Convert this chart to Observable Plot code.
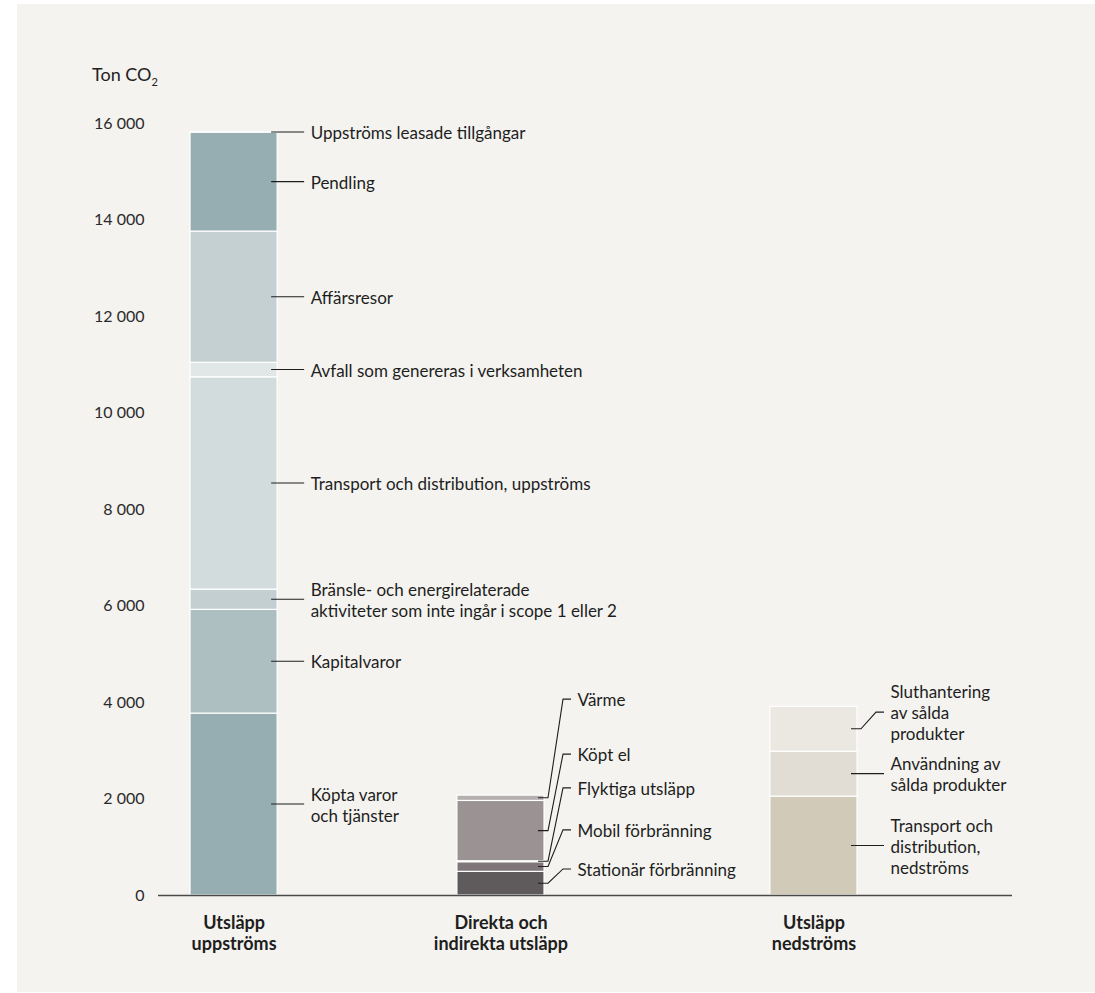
<!DOCTYPE html>
<html>
<head>
<meta charset="utf-8">
<script src="https://cdn.jsdelivr.net/npm/d3@7"></script>
<script src="https://cdn.jsdelivr.net/npm/@observablehq/plot@0.6"></script>
<style>
  html, body { margin: 0; padding: 0; background: #ffffff; }
  #panel { position: absolute; left: 17px; top: 4px; width: 1078px; height: 988px; background: #f4f3ef;
           font-family: Lato, "Noto Sans", sans-serif; }
  #title { height: 91px; box-sizing: border-box; padding: 59px 0 0 75px; font-size: 18px; line-height: 22px; color: #222; }
  #title sub { font-size: 11px; vertical-align: -5px; line-height: 0; }
  #chart svg { display: block; }
</style>
</head>
<body>
<div id="panel">
  <div id="title">Ton CO<sub>2</sub></div>
  <div id="chart"></div>
</div>
<script>
// ---------------- DATA ----------------
const groupNames = ["Utsläpp\nuppströms", "Direkta och\nindirekta utsläpp", "Utsläpp\nnedströms"];

const upstreamLabels = [
  "Köpta varor\noch tjänster",
  "Kapitalvaror",
  "Bränsle- och energirelaterade\naktiviteter som inte ingår i scope 1 eller 2",
  "Transport och distribution, uppströms",
  "Avfall som genereras i verksamheten",
  "Affärsresor",
  "Pendling",
  "Uppströms leasade tillgångar"
];
const upstreamValues = [3770, 2150, 420, 4400, 300, 2720, 2050, 10];

const directLabels = ["Stationär förbränning", "Mobil förbränning", "Flyktiga utsläpp", "Köpt el", "Värme"];
const directValues = [490, 200, 20, 1250, 110];

const downstreamLabels = ["Transport och\ndistribution,\nnedströms", "Användning av\nsålda produkter", "Sluthantering\nav sålda\nprodukter"];
const downstreamValues = [2050, 930, 930];

const yTicks = [0, 2000, 4000, 6000, 8000, 10000, 12000, 14000, 16000];

// ---------------- LAYOUT / STYLE ----------------
const groupCenter = [8.85, 40.1, 76.75];   // x-scale units (0..100)
const barHalf = 5.1;
// label anchor (in tons) where a label is moved away from its segment midpoint
const directLabelAt = [540, 1350, 2220, 2920, 4060];
const downstreamLabelAt = [null, null, 3790];

const upstreamColors = ["#96aeb1", "#adbfc1", "#c3cfd1", "#d3dcdd", "#e1e6e6", "#c5d0d2", "#96aeb1", "#86a2a6"];
const directColors = ["#5f5a5b", "#7e7678", "#8a8284", "#9b9294", "#b5afb0"];
const downstreamColors = ["#d1cab9", "#e2ddd4", "#ebe8e2"];

// ---------------- BUILD SEGMENTS ----------------
function build(gi, labels, values, colors, labelAt) {
  let acc = 0;
  return values.map((v, i) => {
    const y1 = acc, y2 = acc + v; acc = y2;
    const mid = (y1 + y2) / 2;
    return { gi, label: labels[i], value: v, y1, y2, mid,
             labelAt: (labelAt && labelAt[i] != null) ? labelAt[i] : mid,
             fill: colors[i] };
  });
}
const segments = [
  ...build(0, upstreamLabels, upstreamValues, upstreamColors, null),
  ...build(1, directLabels, directValues, directColors, directLabelAt),
  ...build(2, downstreamLabels, downstreamValues, downstreamColors, downstreamLabelAt)
];
const groups = groupNames.map((name, gi) => ({ name, gi }));

function leaders(index, scales) {
  const g = d3.create("svg:g").attr("fill", "none").attr("stroke", "#1e1e1e").attr("stroke-width", 1.1);
  for (const s of segments) {
    const xr = scales.x(groupCenter[s.gi] + barHalf);
    const y0 = scales.y(s.mid), y1 = scales.y(s.labelAt);
    const pts = Math.abs(y0 - y1) < 1
      ? [[xr - 6, y0], [xr + 27, y0]]
      : [[xr - 6, y0], [xr + 4, y0], [xr + 19, y1], [xr + 27, y1]];
    g.append("path").attr("d", d3.line()(pts));
  }
  return g.node();
}

const fmt = d => d3.format(",")(d).replace(/,/g, " ");

const chart = Plot.plot({
  width: 1078,
  height: 897,
  marginTop: 28,
  marginBottom: 97,
  marginLeft: 141,
  marginRight: 83,
  style: { background: "transparent", fontFamily: "Lato, 'Noto Sans', sans-serif", fontSize: "16px", color: "#2a2a2a" },
  x: { domain: [0, 100], axis: null },
  y: { domain: [0, 16000], ticks: yTicks, tickFormat: fmt, tickSize: 0, tickPadding: 14, label: null },
  marks: [
    Plot.rectY(segments, {
      x1: d => groupCenter[d.gi] - barHalf,
      x2: d => groupCenter[d.gi] + barHalf,
      y1: "y1", y2: "y2",
      fill: "fill", stroke: "#ffffff", strokeWidth: 1.2
    }),
    Plot.ruleY([0], { stroke: "#4a4a4a", strokeWidth: 1.6 }),
    leaders,
    Plot.text(segments, {
      x: d => groupCenter[d.gi] + barHalf, y: "labelAt", text: "label",
      dx: 33, textAnchor: "start", lineHeight: 1.24, fontSize: 17, fill: "#1e1e1e"
    }),
    Plot.text(groups, {
      x: d => groupCenter[d.gi], y: d => 0, text: "name",
      dy: 37, lineHeight: 1.2, fontSize: 18, fontWeight: 700, fill: "#1e1e1e"
    })
  ]
});
document.getElementById("chart").appendChild(chart);
</script>
</body>
</html>
